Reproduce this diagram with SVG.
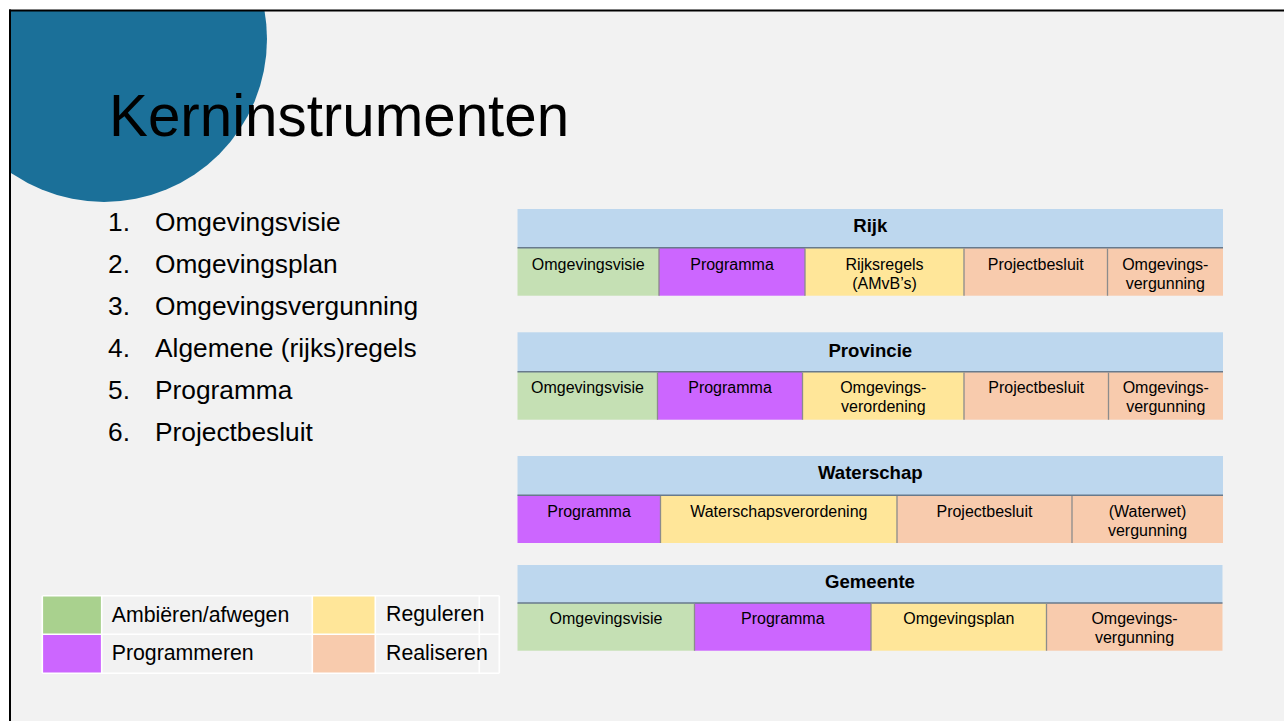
<svg xmlns="http://www.w3.org/2000/svg" width="1284" height="721" viewBox="0 0 1284 721">
<style>
.t{font-family:"Liberation Sans",Arial,sans-serif;fill:#000}
.title{font-size:58.3px}
.li{font-size:26.3px}
.hd{font-size:18.6px;font-weight:bold;text-anchor:middle}
.cl{font-size:16px;text-anchor:middle}
.lg{font-size:21.3px}
.hdr{fill:#BDD7EE}
.g{fill:#C5E0B4}
.p{fill:#CC66FF}
.y{fill:#FFE699}
.o{fill:#F8CBAD}
.hl{stroke:#687a8c;stroke-width:1.6;fill:none}
.dv{stroke:#8c8c8c;stroke-width:1.3;fill:none}
.wl{stroke:#ffffff;stroke-width:1.6;fill:none}
</style>
<defs>
<clipPath id="slide"><rect x="10" y="10" width="1274" height="711"/></clipPath>
</defs>
<rect x="0" y="0" width="1284" height="721" fill="#ffffff"/>
<g id="background">
<rect x="10" y="10" width="1274" height="711" fill="#F2F2F2"/>
<circle cx="104" cy="39" r="163" fill="#1B7099" clip-path="url(#slide)"/>
<line x1="9" y1="10.5" x2="1284" y2="10.5" stroke="#000" stroke-width="2"/>
<line x1="10" y1="9.5" x2="10" y2="721" stroke="#000" stroke-width="2"/>
</g>
<g id="title"><text class="t title" x="109" y="136">Kerninstrumenten</text></g>
<g id="list" class="t li">
<text x="108" y="230.5">1.</text><text x="155" y="230.5">Omgevingsvisie</text>
<text x="108" y="272.5">2.</text><text x="155" y="272.5">Omgevingsplan</text>
<text x="108" y="314.5">3.</text><text x="155" y="314.5">Omgevingsvergunning</text>
<text x="108" y="356.5">4.</text><text x="155" y="356.5">Algemene (rijks)regels</text>
<text x="108" y="398.5">5.</text><text x="155" y="398.5">Programma</text>
<text x="108" y="440.5">6.</text><text x="155" y="440.5">Projectbesluit</text>
</g>
<g id="rijk">
<rect class="hdr" x="517.5" y="209" width="705.5" height="38.7"/>
<rect class="g" x="517.5" y="247.7" width="141.5" height="48"/>
<rect class="p" x="659" y="247.7" width="146" height="48"/>
<rect class="y" x="805" y="247.7" width="159" height="48"/>
<rect class="o" x="964" y="247.7" width="143.5" height="48"/>
<rect class="o" x="1107.5" y="247.7" width="115.5" height="48"/>
<line class="hl" x1="517.5" y1="247.7" x2="1223" y2="247.7"/>
<path class="dv" d="M659 248.5V295.7M805 248.5V295.7M964 248.5V295.7M1107.5 248.5V295.7"/>
<text class="t hd" x="870.3" y="232.3">Rijk</text>
<text class="t cl" x="588.3" y="270">Omgevingsvisie</text>
<text class="t cl" x="732" y="270">Programma</text>
<text class="t cl" x="884.5" y="270">Rijksregels</text>
<text class="t cl" x="884.5" y="289">(AMvB’s)</text>
<text class="t cl" x="1035.8" y="270">Projectbesluit</text>
<text class="t cl" x="1165.3" y="270">Omgevings-</text>
<text class="t cl" x="1165.3" y="289">vergunning</text>
</g>
<g id="provincie">
<rect class="hdr" x="517.5" y="332.3" width="705.5" height="39.4"/>
<rect class="g" x="517.5" y="371.7" width="140" height="48"/>
<rect class="p" x="657.5" y="371.7" width="145" height="48"/>
<rect class="y" x="802.5" y="371.7" width="161.5" height="48"/>
<rect class="o" x="964" y="371.7" width="144.5" height="48"/>
<rect class="o" x="1108.5" y="371.7" width="114.5" height="48"/>
<line class="hl" x1="517.5" y1="371.7" x2="1223" y2="371.7"/>
<path class="dv" d="M657.5 372.5V419.7M802.5 372.5V419.7M964 372.5V419.7M1108.5 372.5V419.7"/>
<text class="t hd" x="870.3" y="356.7">Provincie</text>
<text class="t cl" x="587.5" y="392.7">Omgevingsvisie</text>
<text class="t cl" x="730" y="392.7">Programma</text>
<text class="t cl" x="883.3" y="392.7">Omgevings-</text>
<text class="t cl" x="883.3" y="411.5">verordening</text>
<text class="t cl" x="1036.3" y="392.7">Projectbesluit</text>
<text class="t cl" x="1165.8" y="392.7">Omgevings-</text>
<text class="t cl" x="1165.8" y="411.5">vergunning</text>
</g>
<g id="waterschap">
<rect class="hdr" x="517.5" y="456" width="705.5" height="39.3"/>
<rect class="p" x="517.5" y="495.3" width="143" height="47.7"/>
<rect class="y" x="660.5" y="495.3" width="236.5" height="47.7"/>
<rect class="o" x="897" y="495.3" width="175" height="47.7"/>
<rect class="o" x="1072" y="495.3" width="151" height="47.7"/>
<line class="hl" x1="517.5" y1="495.3" x2="1223" y2="495.3"/>
<path class="dv" d="M660.5 496V543M897 496V543M1072 496V543"/>
<text class="t hd" x="870.3" y="479.3">Waterschap</text>
<text class="t cl" x="589" y="516.7">Programma</text>
<text class="t cl" x="778.8" y="516.7">Waterschapsverordening</text>
<text class="t cl" x="984.5" y="516.7">Projectbesluit</text>
<text class="t cl" x="1147.5" y="516.7">(Waterwet)</text>
<text class="t cl" x="1147.5" y="535.5">vergunning</text>
</g>
<g id="gemeente">
<rect class="hdr" x="517.5" y="565" width="705" height="38"/>
<rect class="g" x="517.5" y="603" width="177" height="47.7"/>
<rect class="p" x="694.5" y="603" width="176.5" height="47.7"/>
<rect class="y" x="871" y="603" width="175.5" height="47.7"/>
<rect class="o" x="1046.5" y="603" width="176" height="47.7"/>
<line class="hl" x1="517.5" y1="603" x2="1222.5" y2="603"/>
<path class="dv" d="M694.5 604V650.7M871 604V650.7M1046.5 604V650.7"/>
<text class="t hd" x="870" y="588.3">Gemeente</text>
<text class="t cl" x="606" y="624.3">Omgevingsvisie</text>
<text class="t cl" x="782.8" y="624.3">Programma</text>
<text class="t cl" x="958.8" y="624.3">Omgevingsplan</text>
<text class="t cl" x="1134.5" y="624.3">Omgevings-</text>
<text class="t cl" x="1134.5" y="643.3">vergunning</text>
</g>
<g id="legend">
<rect x="42.3" y="595.7" width="59.4" height="38.6" fill="#A9D18E"/>
<rect x="42.3" y="634.3" width="59.4" height="39" fill="#CC66FF"/>
<rect x="312.3" y="595.7" width="62.7" height="38.6" fill="#FFE699"/>
<rect x="312.3" y="634.3" width="62.7" height="39" fill="#F8CBAD"/>
<path class="wl" d="M42.3 595.7H499.3M42.3 634.3H499.3M42.3 673.3H499.3M42.3 595.7V673.3M101.7 595.7V673.3M312.3 595.7V673.3M375.3 595.7V673.3M479.3 595.7V673.3M499.3 595.7V673.3"/>
<text class="t lg" x="111.7" y="621.5">Ambiëren/afwegen</text>
<text class="t lg" x="111.7" y="660">Programmeren</text>
<text class="t lg" x="386" y="621">Reguleren</text>
<text class="t lg" x="386" y="660">Realiseren</text>
</g>
<g id="connectors"/>
</svg>
